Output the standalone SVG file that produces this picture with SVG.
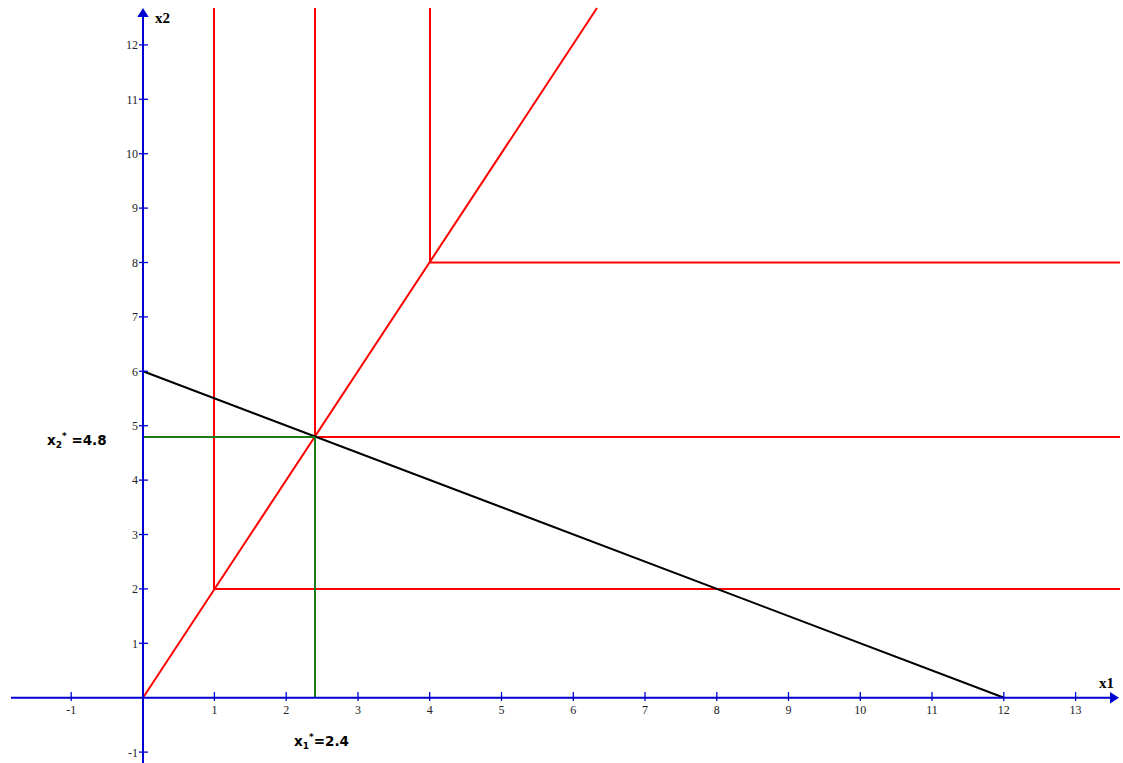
<svg xmlns="http://www.w3.org/2000/svg" width="1123" height="763" viewBox="0 0 1123 763">
<style>
.ax{stroke:#0000d0;stroke-width:2;fill:none}
.tk{stroke:#0000d0;stroke-width:1.3}
.red{stroke:#ff0000;stroke-width:2;fill:none}
.blk{stroke:#000;stroke-width:2;fill:none}
.grn{stroke:#1a7a1a;stroke-width:2;fill:none}
.num{font-family:"Liberation Serif",serif;font-size:12px;fill:#222}
.axl{font-family:"Liberation Serif",serif;font-size:15px;font-weight:bold;fill:#000}
.lab{font-family:"DejaVu Sans",sans-serif;font-size:13.5px;font-weight:bold;fill:#000}
.sub{font-size:9px}
</style>
<rect width="1123" height="763" fill="#fff"/>
<g id="connectors">
<line class="red" x1="214" y1="8" x2="214" y2="589"/>
<line class="red" x1="315" y1="8" x2="315" y2="437"/>
<line class="red" x1="430" y1="8" x2="430" y2="262.5"/>
<line class="red" x1="214" y1="589" x2="1120" y2="589"/>
<line class="red" x1="315" y1="437" x2="1120" y2="437"/>
<line class="red" x1="430" y1="262.5" x2="1120" y2="262.5"/>
<line class="red" x1="143" y1="697.7" x2="597" y2="8"/>
<line class="blk" x1="143" y1="371.3" x2="1004" y2="697.7"/>
<line class="grn" x1="143" y1="437" x2="315" y2="437"/>
<line class="grn" x1="315" y1="437" x2="315" y2="697"/>
</g>
<g id="axes">
<line class="ax" x1="11" y1="697.7" x2="1112" y2="697.7"/>
<polygon points="1119,697.7 1110,692 1110,703.4" fill="#0000d0"/>
<line class="ax" x1="143" y1="763" x2="143" y2="14"/>
<polygon points="143,8 137.3,17 148.7,17" fill="#0000d0"/>
<g class="tk">
<line x1="71.2" y1="692" x2="71.2" y2="701"/>
<line x1="214.4" y1="692" x2="214.4" y2="701"/>
<line x1="286.2" y1="692" x2="286.2" y2="701"/>
<line x1="358" y1="692" x2="358" y2="701"/>
<line x1="429.7" y1="692" x2="429.7" y2="701"/>
<line x1="501.5" y1="692" x2="501.5" y2="701"/>
<line x1="573.3" y1="692" x2="573.3" y2="701"/>
<line x1="645" y1="692" x2="645" y2="701"/>
<line x1="716.8" y1="692" x2="716.8" y2="701"/>
<line x1="788.5" y1="692" x2="788.5" y2="701"/>
<line x1="860.3" y1="692" x2="860.3" y2="701"/>
<line x1="932" y1="692" x2="932" y2="701"/>
<line x1="1003.8" y1="692" x2="1003.8" y2="701"/>
<line x1="1075.6" y1="692" x2="1075.6" y2="701"/>
<line x1="139" y1="752.1" x2="148" y2="752.1"/>
<line x1="139" y1="643.3" x2="148" y2="643.3"/>
<line x1="139" y1="588.9" x2="148" y2="588.9"/>
<line x1="139" y1="534.5" x2="148" y2="534.5"/>
<line x1="139" y1="480.1" x2="148" y2="480.1"/>
<line x1="139" y1="425.7" x2="148" y2="425.7"/>
<line x1="139" y1="371.3" x2="148" y2="371.3"/>
<line x1="139" y1="316.9" x2="148" y2="316.9"/>
<line x1="139" y1="262.5" x2="148" y2="262.5"/>
<line x1="139" y1="208.1" x2="148" y2="208.1"/>
<line x1="139" y1="153.7" x2="148" y2="153.7"/>
<line x1="139" y1="99.3" x2="148" y2="99.3"/>
<line x1="139" y1="44.9" x2="148" y2="44.9"/>
</g>
<g class="num" text-anchor="middle">
<text x="71.2" y="714">-1</text>
<text x="214.4" y="714">1</text>
<text x="286.2" y="714">2</text>
<text x="358" y="714">3</text>
<text x="429.7" y="714">4</text>
<text x="501.5" y="714">5</text>
<text x="573.3" y="714">6</text>
<text x="645" y="714">7</text>
<text x="716.8" y="714">8</text>
<text x="788.5" y="714">9</text>
<text x="860.3" y="714">10</text>
<text x="932" y="714">11</text>
<text x="1003.8" y="714">12</text>
<text x="1075.6" y="714">13</text>
</g>
<g class="num" text-anchor="end">
<text x="138" y="756.5">-1</text>
<text x="138" y="647.5">1</text>
<text x="138" y="593">2</text>
<text x="138" y="538.7">3</text>
<text x="138" y="484.3">4</text>
<text x="138" y="430">5</text>
<text x="138" y="375.5">6</text>
<text x="138" y="321">7</text>
<text x="138" y="266.7">8</text>
<text x="138" y="212.3">9</text>
<text x="138" y="158">10</text>
<text x="138" y="103.5">11</text>
<text x="138" y="49">12</text>
</g>
<text class="axl" x="155" y="23">x2</text>
<text class="axl" x="1099" y="688">x1</text>
</g>
<g id="label-x2">
<text class="lab" x="47" y="445">x<tspan class="sub" dy="3">2</tspan><tspan class="sub" dy="-9">*</tspan><tspan dy="6"> =4.8</tspan></text>
</g>
<g id="label-x1">
<text class="lab" x="294" y="746">x<tspan class="sub" dy="3">1</tspan><tspan class="sub" dy="-9">*</tspan><tspan dy="6">=2.4</tspan></text>
</g>
</svg>
